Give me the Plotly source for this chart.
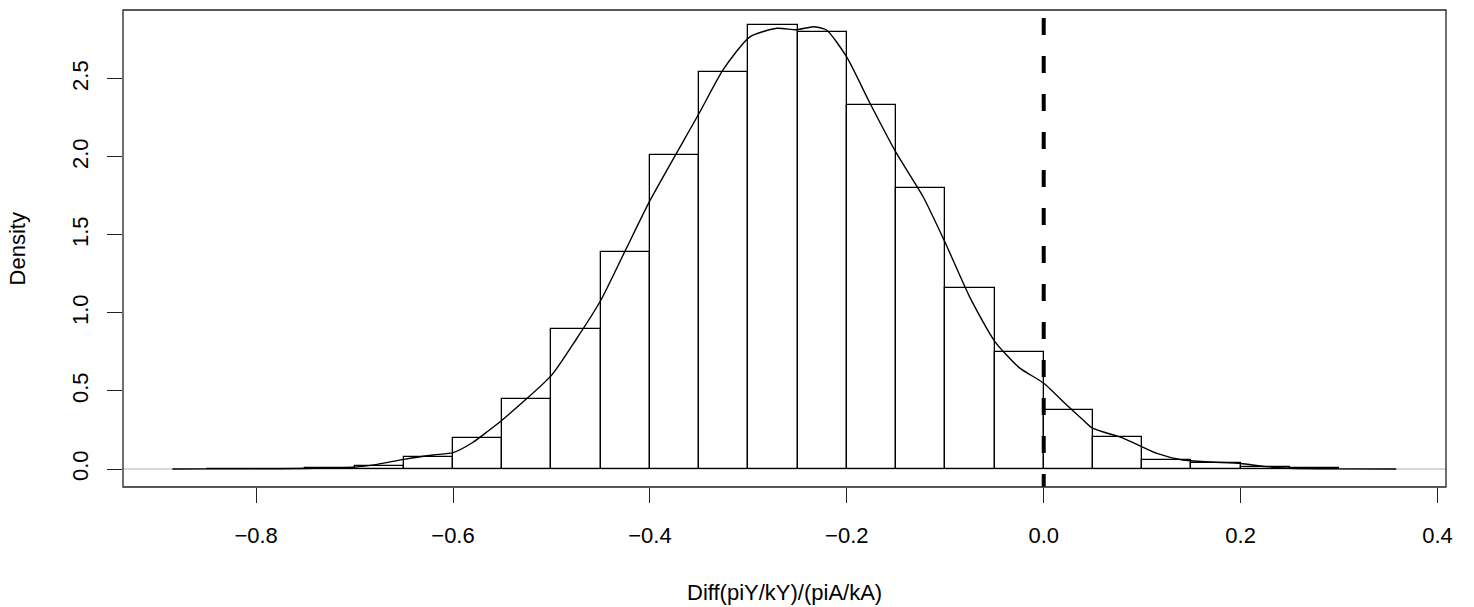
import plotly.graph_objects as go

# Histogram bins (edges) and densities
bin_left = [-0.85, -0.80, -0.75, -0.70, -0.65, -0.60, -0.55, -0.50, -0.45, -0.40,
            -0.35, -0.30, -0.25, -0.20, -0.15, -0.10, -0.05, 0.00, 0.05, 0.10,
            0.15, 0.20, 0.25]
bin_width = 0.05
bin_density = [0.003, 0.0, 0.005, 0.021, 0.077, 0.197, 0.449, 0.897, 1.391, 2.013,
               2.543, 2.848, 2.799, 2.333, 1.803, 1.160, 0.750, 0.378, 0.203, 0.060,
               0.040, 0.015, 0.004]

# Kernel density curve
dens_x = [-0.885, -0.85, -0.80, -0.75, -0.70, -0.677, -0.65, -0.62, -0.60, -0.58,
          -0.565, -0.55, -0.50, -0.475, -0.45, -0.425, -0.40, -0.35, -0.3256, -0.2985,
          -0.271, -0.251, -0.234, -0.2206, -0.2003, -0.1766, -0.1496, -0.1225, -0.10,
          -0.075, -0.05, -0.025, 0.0, 0.025, 0.04, 0.05, 0.08, 0.115, 0.141, 0.17,
          0.20, 0.226, 0.25, 0.30, 0.358]
dens_y = [0.0, 0.001, 0.001, 0.003, 0.012, 0.03, 0.062, 0.09, 0.105, 0.17,
          0.24, 0.314, 0.60, 0.83, 1.08, 1.40, 1.72, 2.28, 2.56, 2.77,
          2.825, 2.815, 2.835, 2.814, 2.643, 2.346, 2.024, 1.745, 1.45,
          1.10, 0.82, 0.65, 0.55, 0.40, 0.314, 0.26, 0.20, 0.10, 0.058, 0.045,
          0.035, 0.015, 0.005, 0.001, 0.0]

x_ticks = [-0.8, -0.6, -0.4, -0.2, 0.0, 0.2, 0.4]
x_ticktext = ["\u22120.8", "\u22120.6", "\u22120.4", "\u22120.2", "0.0", "0.2", "0.4"]
y_ticks = [0.0, 0.5, 1.0, 1.5, 2.0, 2.5]
y_ticktext = ["0.0", "0.5", "1.0", "1.5", "2.0", "2.5"]

x_title = "Diff(piY/kY)/(piA/kA)"
y_title = "Density"
vline_x = 0.0

FONT = "Liberation Sans, Arial, Helvetica, sans-serif"

fig = go.Figure()

# zero line (gray, full width)
fig.add_shape(type="line", xref="paper", yref="y", x0=0, x1=1, y0=0, y1=0,
              line=dict(color="#b0b0b0", width=1), layer="below")

# density curve
fig.add_trace(go.Scatter(x=dens_x, y=dens_y, mode="lines",
                         line=dict(color="black", width=1.4, shape="spline", smoothing=0.6),
                         hoverinfo="skip", showlegend=False))

# histogram bars (no fill)
centers = [l + bin_width / 2 for l in bin_left]
fig.add_trace(go.Bar(x=centers, y=bin_density, width=[bin_width] * len(centers),
                     marker=dict(color="rgba(0,0,0,0)", line=dict(color="black", width=1.3)),
                     hoverinfo="skip", showlegend=False))

# dashed vertical line at 0 (dashes start a little below the top of the frame)
fig.add_shape(type="line", xref="x", yref="paper", x0=vline_x, x1=vline_x, y0=0.9832, y1=0,
              line=dict(color="black", width=4, dash="17px,21px"))

# frame box
fig.add_shape(type="rect", xref="paper", yref="paper", x0=0, x1=1, y0=0, y1=1,
              line=dict(color="#222222", width=1.3))

fig.add_annotation(text=y_title, xref="paper", yref="paper", x=-0.0794, y=0.5,
                   textangle=-90, showarrow=False, font=dict(size=22, color="black", family=FONT),
                   xanchor="center", yanchor="middle")
fig.add_annotation(text=x_title, xref="paper", yref="paper", x=0.5, y=-0.2222,
                   showarrow=False, font=dict(size=22, color="black", family=FONT),
                   xanchor="center", yanchor="middle")

fig.update_layout(
    width=1474, height=607,
    margin=dict(l=123, r=28, t=10, b=120),
    paper_bgcolor="white", plot_bgcolor="white",
    font=dict(family=FONT, size=22, color="black"),
    bargap=0,
    xaxis=dict(range=[-0.9352, 0.4086], tickvals=x_ticks, ticktext=x_ticktext,
               showgrid=False, zeroline=False, showline=False,
               ticks="outside", ticklen=15, tickwidth=1.3, tickcolor="#222222",
               ticklabelstandoff=14, tickfont=dict(size=22)),
    yaxis=dict(range=[-0.1154, 2.942], tickvals=y_ticks, ticktext=y_ticktext,
               showgrid=False, zeroline=False, showline=False,
               ticks="outside", ticklen=15, tickwidth=1.3, tickcolor="#222222",
               tickangle=-90, ticklabelstandoff=10, tickfont=dict(size=22)),
)

fig.write_html("out.html")
